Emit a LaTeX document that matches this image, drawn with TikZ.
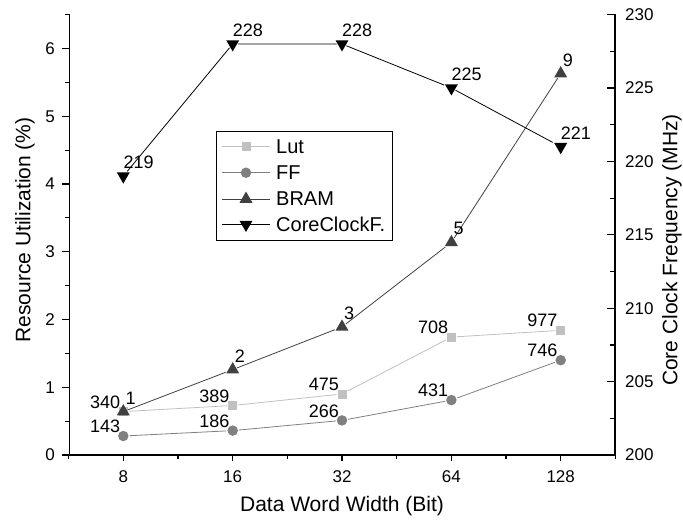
\documentclass[tikz,border=0pt]{standalone}
\usepackage{fontspec}
\setmainfont{Liberation Sans}
\usetikzlibrary{shapes.geometric}

\definecolor{lutc}{HTML}{C0C0C0}
\definecolor{ffc}{HTML}{808080}
\definecolor{bramc}{HTML}{404040}

\begin{document}
\begin{tikzpicture}[x=1pt,y=-1pt,
  axisline/.style={line width=1.3pt, line cap=rect},
  tickline/.style={line width=1.2pt},
  ticklab/.style={font=\fontsize{17}{17}\selectfont, inner sep=0pt},
  datalab/.style={font=\fontsize{18}{18}\selectfont, inner sep=0pt},
  axtitle/.style={font=\fontsize{21}{21}\selectfont, inner sep=0pt},
  legtext/.style={font=\fontsize{20}{20}\selectfont, inner sep=0pt, anchor=west},
  lutline/.style={draw=lutc, line width=0.8pt},
  ffline/.style={draw=ffc, line width=0.8pt},
  bramline/.style={draw=bramc, line width=0.8pt},
  clkline/.style={draw=black, line width=0.8pt},
  lutmark/.style={rectangle, fill=lutc, minimum size=9pt, inner sep=0pt, outer sep=1pt},
  ffmark/.style={circle, fill=ffc, minimum size=10.5pt, inner sep=0pt, outer sep=1pt},
  brammark/.style={regular polygon, regular polygon sides=3, fill=bramc, minimum size=15pt, inner sep=0pt, outer sep=1pt},
  clkmark/.style={regular polygon, regular polygon sides=3, shape border rotate=180, fill=black, minimum size=15pt, inner sep=0pt, outer sep=1pt},
]
\useasboundingbox (0,0) rectangle (683,522);

% ---- axes ----
\draw[axisline] (69.5,14.6) -- (69.5,455) -- (615,455) -- (615,14.6);

% left axis: resource utilization 0..6.5
\foreach \v in {0,...,6} {
  \draw[tickline] (69.5,{455-67.75*\v}) -- ++(-8,0);
  \node[ticklab, anchor=east] at (55,{455-67.75*\v}) {\v};
}
\foreach \v in {0.5,1.5,...,6.5}
  \draw[tickline] (69.5,{455-67.75*\v}) -- ++(-5,0);

% right axis: core clock frequency 200..230
\foreach \f in {200,205,...,230} {
  \draw[tickline] (615,{455-14.68*(\f-200)}) -- ++(-8,0);
  \node[ticklab, anchor=west] at (625,{455-14.68*(\f-200)}) {\f};
}
\foreach \f in {202.5,207.5,...,227.5}
  \draw[tickline] (615,{455-14.68*(\f-200)}) -- ++(-5,0);

% bottom axis: data word width
\foreach \i/\w in {0/8,1/16,2/32,3/64,4/128} {
  \draw[tickline] ({123.3+109.35*\i},455) -- ++(0,5.5);
  \node[ticklab] at ({123.3+109.35*\i},476.7) {\w};
}
\foreach \i in {-0.5,0.5,...,4.5}
  \draw[tickline] ({123.3+109.35*\i},455) -- ++(0,4);

% axis titles
\node[axtitle] (xtitle) at (342,506) {Data Word Width (Bit)};
\node[axtitle, rotate=90] (yltitle) at (25,230) {Resource Utilization (\%)};
\node[axtitle, rotate=90] (yrtitle) at (672,250) {Core Clock Frequency (MHz)};

% ---- Lut ----
\node[lutmark] (l0) at (123.3,411.6) {};
\node[lutmark] (l1) at (232.7,405.5) {};
\node[lutmark] (l2) at (342.0,394.0) {};
\node[lutmark] (l3) at (451.4,337.1) {};
\node[lutmark] (l4) at (560.7,330.3) {};
\draw[lutline] (l0) -- (l1) -- (l2) -- (l3) -- (l4);
\foreach \n/\t in {l0/340,l1/389,l2/475,l3/708,l4/977}
  \node[datalab, anchor=south east] (\n t) at ([shift={(-3,-3)}]\n.center) {\t};

% ---- FF ----
\node[ffmark] (f0) at (123.3,436.0) {};
\node[ffmark] (f1) at (232.7,430.6) {};
\node[ffmark] (f2) at (342.0,420.4) {};
\node[ffmark] (f3) at (451.4,400.1) {};
\node[ffmark] (f4) at (560.7,360.2) {};
\draw[ffline] (f0) -- (f1) -- (f2) -- (f3) -- (f4);
\foreach \n/\t in {f0/143,f1/186,f2/266,f3/431,f4/746}
  \node[datalab, anchor=south east] (\n t) at ([shift={(-3,-3)}]\n.center) {\t};

% ---- BRAM ----
\node[brammark] (b0) at (123.3,411.6) {};
\node[brammark] (b1) at (232.7,369.6) {};
\node[brammark] (b2) at (342.0,326.9) {};
\node[brammark] (b3) at (451.4,242.3) {};
\node[brammark] (b4) at (560.7,73.6) {};
\draw[bramline] (b0) -- (b1) -- (b2) -- (b3) -- (b4);
\foreach \n/\t in {b0/1,b1/2,b2/3,b3/5,b4/9}
  \node[datalab, anchor=south west] (\n t) at ([shift={(2,-7)}]\n.center) {\t};

% ---- core clock frequency ----
\node[clkmark] (c0) at (123.3,176.1) {};
\node[clkmark] (c1) at (232.7,44.0) {};
\node[clkmark] (c2) at (342.0,44.0) {};
\node[clkmark] (c3) at (451.4,88.0) {};
\node[clkmark] (c4) at (560.7,146.7) {};
\draw[clkline] (c0) -- (c1) -- (c2) -- (c3) -- (c4);
\foreach \n/\t in {c0/219,c1/228,c2/228,c3/225,c4/221}
  \node[datalab, anchor=south west] (\n t) at ([shift={(0,-7)}]\n.center) {\t};

% ---- legend ----
\draw[line width=0.8pt] (216,131) rectangle (392,240);
\draw[lutline] (221.7,146.7) -- (270,146.7);
\node[lutmark] (legl) at (246,146.7) {};
\node[legtext] (leglt) at (276,146.7) {Lut};
\draw[ffline] (221.7,172.7) -- (270,172.7);
\node[ffmark] (legf) at (246,172.7) {};
\node[legtext] (legft) at (276,172.7) {FF};
\draw[bramline] (221.7,199) -- (270,199);
\node[brammark] (legb) at (246,199) {};
\node[legtext] (legbt) at (276,199) {BRAM};
\draw[clkline] (221.7,224.5) -- (270,224.5);
\node[clkmark] (legc) at (246,224.5) {};
\node[legtext] (legct) at (276,224.5) {CoreClockF.};
\end{tikzpicture}
\end{document}
